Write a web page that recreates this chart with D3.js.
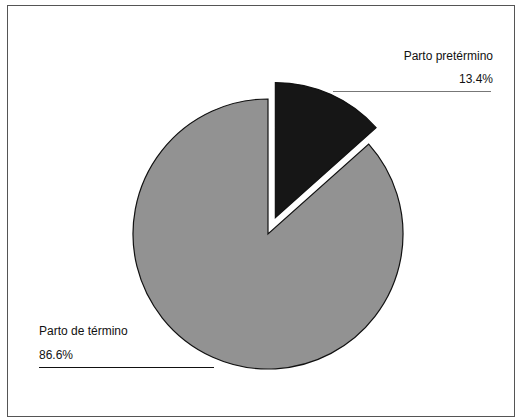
<!DOCTYPE html>
<html>
<head>
<meta charset="utf-8">
<script src="https://cdn.jsdelivr.net/npm/d3@7"></script>
<style>
  body { margin: 0; background: #fff; }
  text { font-family: "Liberation Sans", Arial, sans-serif; font-size: 12px; fill: #111; }
</style>
</head>
<body>
<div id="chart"></div>
<script>
const categories = ["Parto pretérmino", "Parto de término"];
const values = [13.4, 86.6];
const valueLabels = ["13.4%", "86.6%"];
const colours = ["#161616", "#929292"];

const width = 517, height = 419;
const cx = 268, cy = 234, radius = 135, explode = 18;

const svg = d3.select("#chart")
    .append("svg")
        .attr("width", width)
        .attr("height", height);

// frame
svg.append("rect")
    .attr("x", 7.5)
    .attr("y", 5.5)
    .attr("width", 507)
    .attr("height", 411)
    .attr("fill", "none")
    .attr("stroke", "#555")
    .attr("stroke-width", 1);

const pie = d3.pie().sort(null).value(d => d);
const arcs = pie(values);
const arc = d3.arc().innerRadius(0).outerRadius(radius);

const g = svg.append("g")
    .attr("transform", `translate(${cx},${cy})`);

g.selectAll("path.slice")
    .data(arcs)
    .enter().append("path")
        .attr("class", "slice")
        .attr("d", arc)
        .attr("transform", (d, i) => {
            if (i !== 0) return null;
            const mid = (d.startAngle + d.endAngle) / 2;
            return `translate(${Math.sin(mid) * explode},${-Math.cos(mid) * explode})`;
        })
        .attr("fill", (d, i) => colours[i])
        .attr("stroke", "#111")
        .attr("stroke-width", 1.2);

// leader lines + labels
const leaders = [
    { x1: 333, x2: 491, y: 91, tx: 493, anchor: "end", nameY: 60, valY: 83 },
    { x1: 39, x2: 214, y: 367, tx: 39, anchor: "start", nameY: 335, valY: 359 }
];

leaders.forEach((l, i) => {
    svg.append("line")
        .attr("x1", l.x1).attr("x2", l.x2)
        .attr("y1", l.y + 0.5).attr("y2", l.y + 0.5)
        .attr("stroke", i === 0 ? "#777" : "#111")
        .attr("stroke-width", 1);
    svg.append("text")
        .attr("x", l.tx).attr("y", l.nameY)
        .attr("text-anchor", l.anchor)
        .text(categories[i]);
    svg.append("text")
        .attr("x", l.tx).attr("y", l.valY)
        .attr("text-anchor", l.anchor)
        .text(valueLabels[i]);
});
</script>
</body>
</html>
